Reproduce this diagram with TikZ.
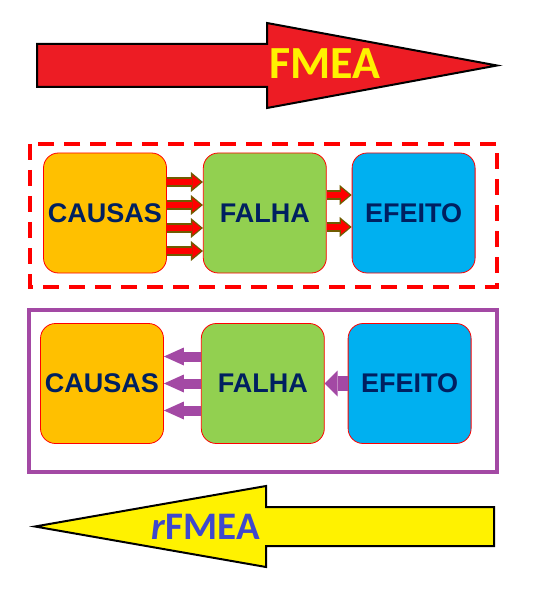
\documentclass[tikz,border=0pt]{standalone}
\usepackage{fontspec}
\setmainfont{Liberation Sans}
\newfontfamily\calibfont{Carlito}
\usetikzlibrary{positioning,arrows.meta}
\definecolor{causasorange}{RGB}{255,192,0}
\definecolor{falhagreen}{RGB}{146,208,80}
\definecolor{efeitoblue}{RGB}{0,176,240}
\definecolor{textnavy}{RGB}{0,32,96}
\definecolor{fmeared}{RGB}{237,28,36}
\definecolor{fmeayellow}{RGB}{255,242,0}
\definecolor{rfmeablue}{RGB}{63,72,204}
\definecolor{framepurple}{RGB}{163,73,164}
\definecolor{olivedark}{RGB}{112,92,0}
\begin{document}
\begin{tikzpicture}[x=1pt, y=-1pt,
  box/.style = {draw=red, line width=0.8pt, rounded corners=15pt, minimum width=123pt, minimum height=120pt, inner sep=0pt, text=textnavy, font=\bfseries\fontsize{27}{31}\selectfont},
  fwd/.style = {preaction={draw=olivedark, line width=10pt, shorten >=0pt, -{Triangle[length=12pt,width=20pt,line width=0pt]}}, draw=red, line width=6pt, shorten >=2pt, -{Triangle[length=8.5pt,width=14pt,line width=0pt]}},
  back/.style = {draw=framepurple, line width=10pt, -{Triangle[length=20pt,width=18pt,line width=0pt]}},
  bigback/.style = {draw=framepurple, line width=15pt, -{Triangle[length=13pt,width=26pt,line width=0pt]}},
  bigarrow/.style = {draw=black, line width=2pt, line join=miter},
  label/.style = {inner sep=0pt, font=\calibfont\bfseries}]
\useasboundingbox (0,0) rectangle (553,593);
\draw[bigarrow, fill=fmeared] (37,44) -- (267,44) -- (267,23) -- (497,65.5) -- (267,108) -- (267,87) -- (37,87) -- cycle;
\node[label, text=fmeayellow, font=\calibfont\bfseries\fontsize{46}{50}\selectfont] (fmea) at (325,64) {FMEA};
\draw[red, line width=4pt, dash pattern=on 16pt off 10pt] (30,144) rectangle (497,287);
\node[box, fill=causasorange] (causas1) at (105,213) {CAUSAS};
\node[box, fill=falhagreen] (falha1) [right=36pt of causas1] {FALHA};
\node[box, fill=efeitoblue] (efeito1) [right=25pt of falha1] {EFEITO};
\draw[fwd] ([yshift=31pt]causas1.east) -- ([yshift=31pt]falha1.west);
\draw[fwd] ([yshift=8pt]causas1.east) -- ([yshift=8pt]falha1.west);
\draw[fwd] ([yshift=-15pt]causas1.east) -- ([yshift=-15pt]falha1.west);
\draw[fwd] ([yshift=-38pt]causas1.east) -- ([yshift=-38pt]falha1.west);
\draw[fwd] ([yshift=18pt]falha1.east) -- ([yshift=18pt]efeito1.west);
\draw[fwd] ([yshift=-14pt]falha1.east) -- ([yshift=-14pt]efeito1.west);
\draw[framepurple, line width=4.5pt] (29,310) rectangle (497,472);
\node[box, fill=causasorange] (causas2) at (102,383.5) {CAUSAS};
\node[box, fill=falhagreen] (falha2) [right=37pt of causas2] {FALHA};
\node[box, fill=efeitoblue] (efeito2) [right=23pt of falha2] {EFEITO};
\draw[back] ([yshift=27pt]falha2.west) -- ([yshift=27pt]causas2.east);
\draw[back] (falha2.west) -- (causas2.east);
\draw[back] ([yshift=-27pt]falha2.west) -- ([yshift=-27pt]causas2.east);
\draw[bigback] (efeito2.west) -- (falha2.east);
\draw[bigarrow, fill=fmeayellow] (494,507) -- (266,507) -- (266,486) -- (35,526.5) -- (266,567) -- (266,546) -- (494,546) -- cycle;
\node[label, text=rfmeablue, font=\calibfont\bfseries\fontsize{39}{43}\selectfont] (rfmea) at (205.5,527) {\textit{r}FMEA};
\end{tikzpicture}
\end{document}
